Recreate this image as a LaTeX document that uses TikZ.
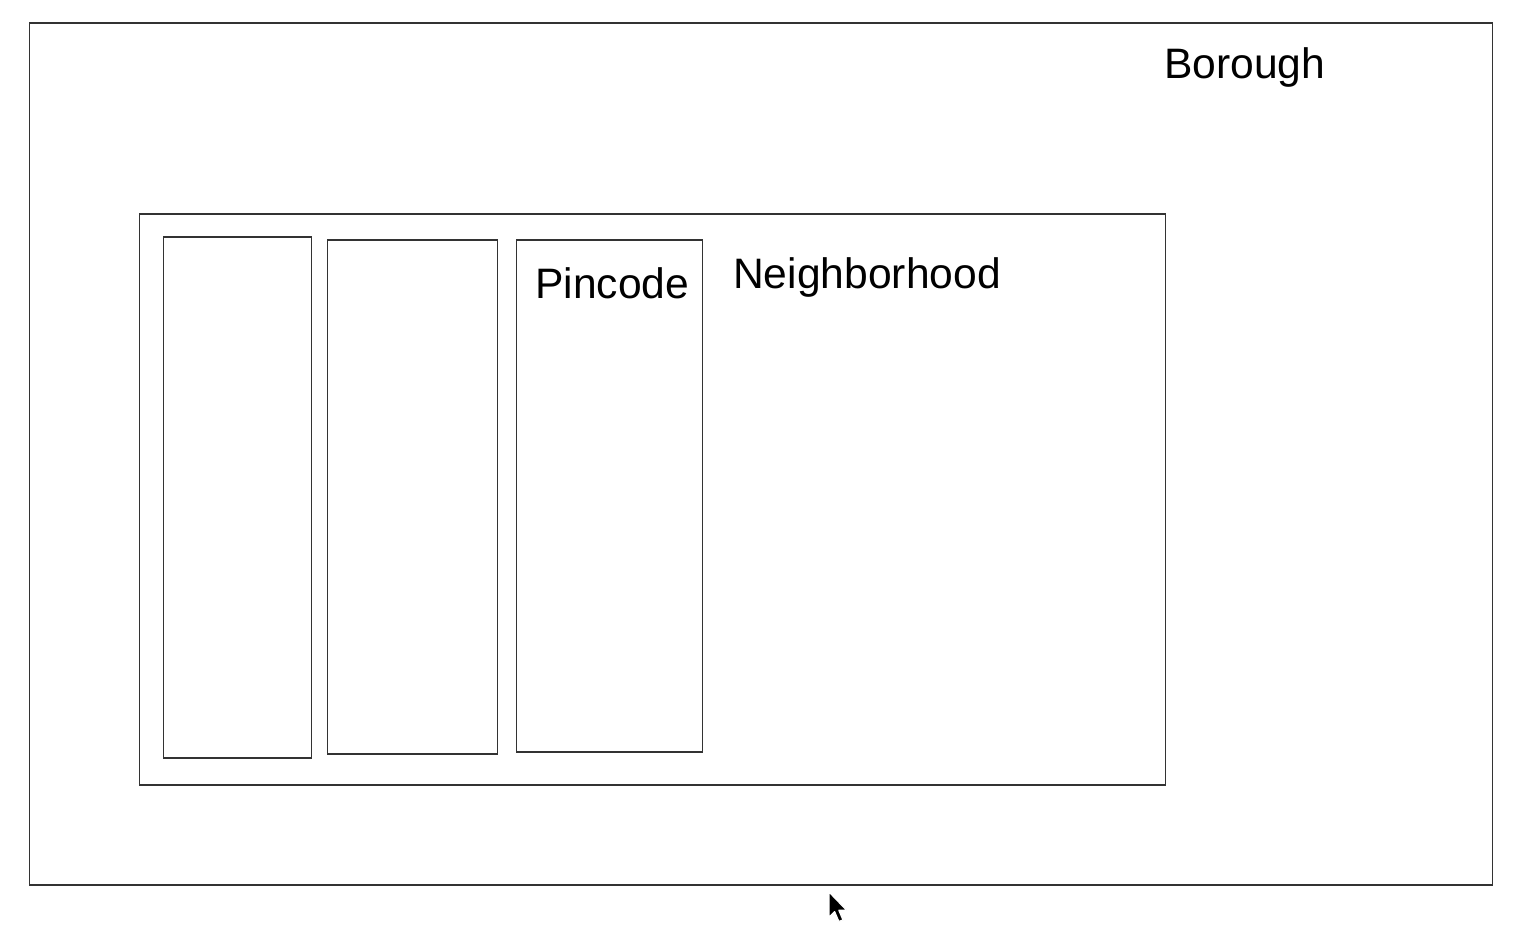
\documentclass[tikz,border=0pt]{standalone}
\usepackage{fontspec}
\setmainfont{Liberation Sans}
\begin{document}
\begin{tikzpicture}[x=1pt,y=-1pt,
  region/.style={draw=black!80, line width=1.6pt, rectangle, inner sep=0pt, anchor=north west},
  label/.style={inner sep=0pt, anchor=base west, font=\fontsize{42.6}{50}\selectfont},
  pointer/.style={fill=black, draw=white, line width=1.2pt, line join=round}]
  \useasboundingbox (0,0) rectangle (1520,952);
  % nested areas
  \node[region, minimum width=1463pt, minimum height=862pt] (borough) at (28.5,22) {};
  \node[region, minimum width=1026pt, minimum height=571pt] (hood) at (138.5,213) {};
  \node[region, minimum width=148pt, minimum height=521pt] (pinA) at (162.5,236) {};
  \node[region, minimum width=170pt, minimum height=514pt] (pinB) at (326.5,239) {};
  \node[region, minimum width=186pt, minimum height=512pt] (pinC) at (515.5,239) {};
  % labels
  \node[label] (tborough) at (1164,79) {Borough};
  \node[label] (thood) at (733,288) {Neighborhood};
  \node[label] (tpin) at (535,298) {Pincode};
  % mouse pointer
  \coordinate (tip) at (829,892);
  \draw[pointer, shift={(tip)}, scale=1.4]
    (0,0) -- (0,18) -- (4,14) -- (7,21) -- (10,20) -- (7,13) -- (12.5,13) -- cycle;
\end{tikzpicture}
\end{document}
